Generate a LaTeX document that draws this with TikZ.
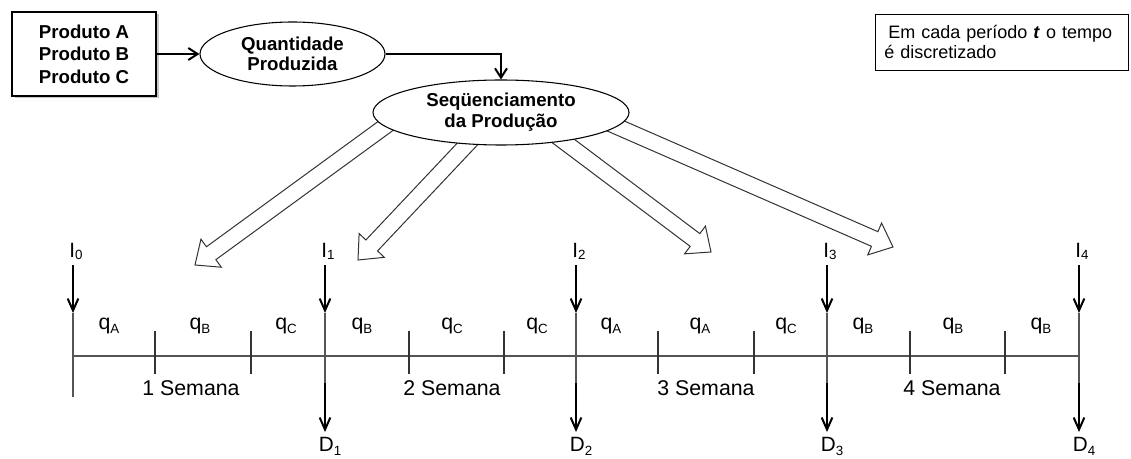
\documentclass[tikz,border=0pt]{standalone}
\usepackage{fontspec}
\setmainfont{Liberation Sans}
\usetikzlibrary{arrows.meta,calc,shapes.geometric}
\definecolor{tl}{RGB}{85,85,85}
\newcommand\seqarrow[2]{%
  \coordinate (hb) at ($(#2)!15pt!(#1)$);
  \draw[hollow] ($(#1)!6pt!90:(#2)$) -- ($(hb)!6pt!90:(#2)$) -- ($(hb)!13pt!90:(#2)$) -- (#2)
     -- ($(hb)!13pt!-90:(#2)$) -- ($(hb)!6pt!-90:(#2)$) -- ($(#1)!6pt!-90:(#2)$);
}
\newcommand\isub[1]{\raisebox{-1.5pt}{\fontsize{10}{10}\selectfont #1}}
\newcommand\dsub[1]{\raisebox{-3.5pt}{\fontsize{10}{10}\selectfont #1}}
\newcommand\qsub[1]{\raisebox{-2.5pt}{\fontsize{10}{10}\selectfont #1}}
\begin{document}
\begin{tikzpicture}[x=0.75pt,y=-0.75pt,
  bigtxt/.style={align=center, font=\fontsize{14}{17}\selectfont\bfseries},
  oval/.style={ellipse, draw, line width=0.8pt, fill=white, inner sep=0pt},
  conn/.style={line width=1.5pt, -{Straight Barb[length=7pt,width=9pt]}},
  vdown/.style={line width=1.5pt, -{Straight Barb[length=9pt,width=8pt]}},
  thinline/.style={line width=1.1pt, draw=tl},
  tickline/.style={line width=0.8pt, draw=black!80},
  hollow/.style={draw=black!80, line width=0.75pt, fill=white, line join=miter},
  qlab/.style={font=\fontsize{16}{16}\selectfont, anchor=base, inner sep=0pt},
  wlab/.style={font=\fontsize{16}{16}\selectfont, anchor=base, inner sep=0pt},
  idlab/.style={font=\fontsize{15.5}{15.5}\selectfont, anchor=base, inner sep=0pt},
]
\useasboundingbox (0,0) rectangle (1131,459);

% product box
\fill[black!22] (15,14) rectangle (159,98);
\node[draw, line width=1pt, fill=white, minimum width=108pt, minimum height=63pt, bigtxt] (prod) at (84,54) {Produto A\\Produto B\\Produto C};

% quantity ellipse
\node[oval, minimum width=138.75pt, minimum height=48pt, bigtxt, font=\fontsize{14}{15}\selectfont\bfseries] (qp) at (292.5,54) {Quantidade\\Produzida};

% hollow arrows
\coordinate (s1) at (391,122); \coordinate (t1) at (195,265);
\coordinate (s2) at (474,137); \coordinate (t2) at (358,260);
\coordinate (s3) at (550,131); \coordinate (t3) at (711,252);
\coordinate (s4) at (602,120); \coordinate (t4) at (893,247);
\seqarrow{s1}{t1}
\seqarrow{s2}{t2}
\seqarrow{s3}{t3}
\seqarrow{s4}{t4}

% sequencing ellipse
\node[oval, minimum width=192pt, minimum height=48.75pt, bigtxt, font=\fontsize{14}{16}\selectfont\bfseries] (seq) at (501,112.5) {Seqüenciamento\\da Produção};

\draw[conn] (prod.east) -- (qp.west);
\draw[conn] (qp.east) -| (seq.north);

% note
\node[draw, line width=0.7pt, minimum width=189.75pt, minimum height=42pt, inner xsep=7pt,
  text width=175.75pt, align=left, font=\fontsize{13.5}{14.5}\selectfont] (note) at (1001.5,42)
  {\hspace{3pt}Em cada período \textbf{\textit{t}} o tempo\\é discretizado};

% timeline
\coordinate (p0) at (73,356);
\coordinate (p4) at (1079,356);
\draw[thinline] (p0) -- (p4);
\foreach \x in {155,251,409,504,658,754,910,1005}
  \draw[tickline] (\x,331) -- (\x,374);

% I0
\coordinate (it0) at (73,265);
\coordinate (ia0) at (73,313);
\coordinate (ie0) at (73,397);
\draw[vdown] (it0) -- (ia0);
\draw[thinline] (ia0) -- (ie0);
\node[idlab] (I0) at (76,258) {I\isub{0}};

\foreach \x/\k in {325/1,576/2,827/3,1079/4}{
  \coordinate (it\k) at (\x,265);
  \coordinate (ia\k) at (\x,313);
  \coordinate (ib\k) at (\x,383);
  \coordinate (id\k) at (\x,432);
  \draw[vdown] (it\k) -- (ia\k);
  \draw[thinline] (ia\k) -- (ib\k);
  \draw[vdown] (ib\k) -- (id\k);
  \node[idlab] (I\k) at (\x+3,258) {I\isub{\k}};
  \node[idlab] (D\k) at (\x+5,451) {D\dsub{\k}};
}

% q labels
\node[qlab] (q1) at (109,330) {q\qsub{A}};
\node[qlab] (q2) at (200,330) {q\qsub{B}};
\node[qlab] (q3) at (286,330) {q\qsub{C}};
\node[qlab] (q4) at (362,330) {q\qsub{B}};
\node[qlab] (q5) at (452,330) {q\qsub{C}};
\node[qlab] (q6) at (537,330) {q\qsub{C}};
\node[qlab] (q7) at (611,330) {q\qsub{A}};
\node[qlab] (q8) at (700,330) {q\qsub{A}};
\node[qlab] (q9) at (786,330) {q\qsub{C}};
\node[qlab] (q10) at (863,330) {q\qsub{B}};
\node[qlab] (q11) at (953,330) {q\qsub{B}};
\node[qlab] (q12) at (1041,330) {q\qsub{B}};

% week labels
\node[wlab] (w1) at (191,395) {1 Semana};
\node[wlab] (w2) at (452,395) {2 Semana};
\node[wlab] (w3) at (706,395) {3 Semana};
\node[wlab] (w4) at (952,395) {4 Semana};
\end{tikzpicture}
\end{document}
